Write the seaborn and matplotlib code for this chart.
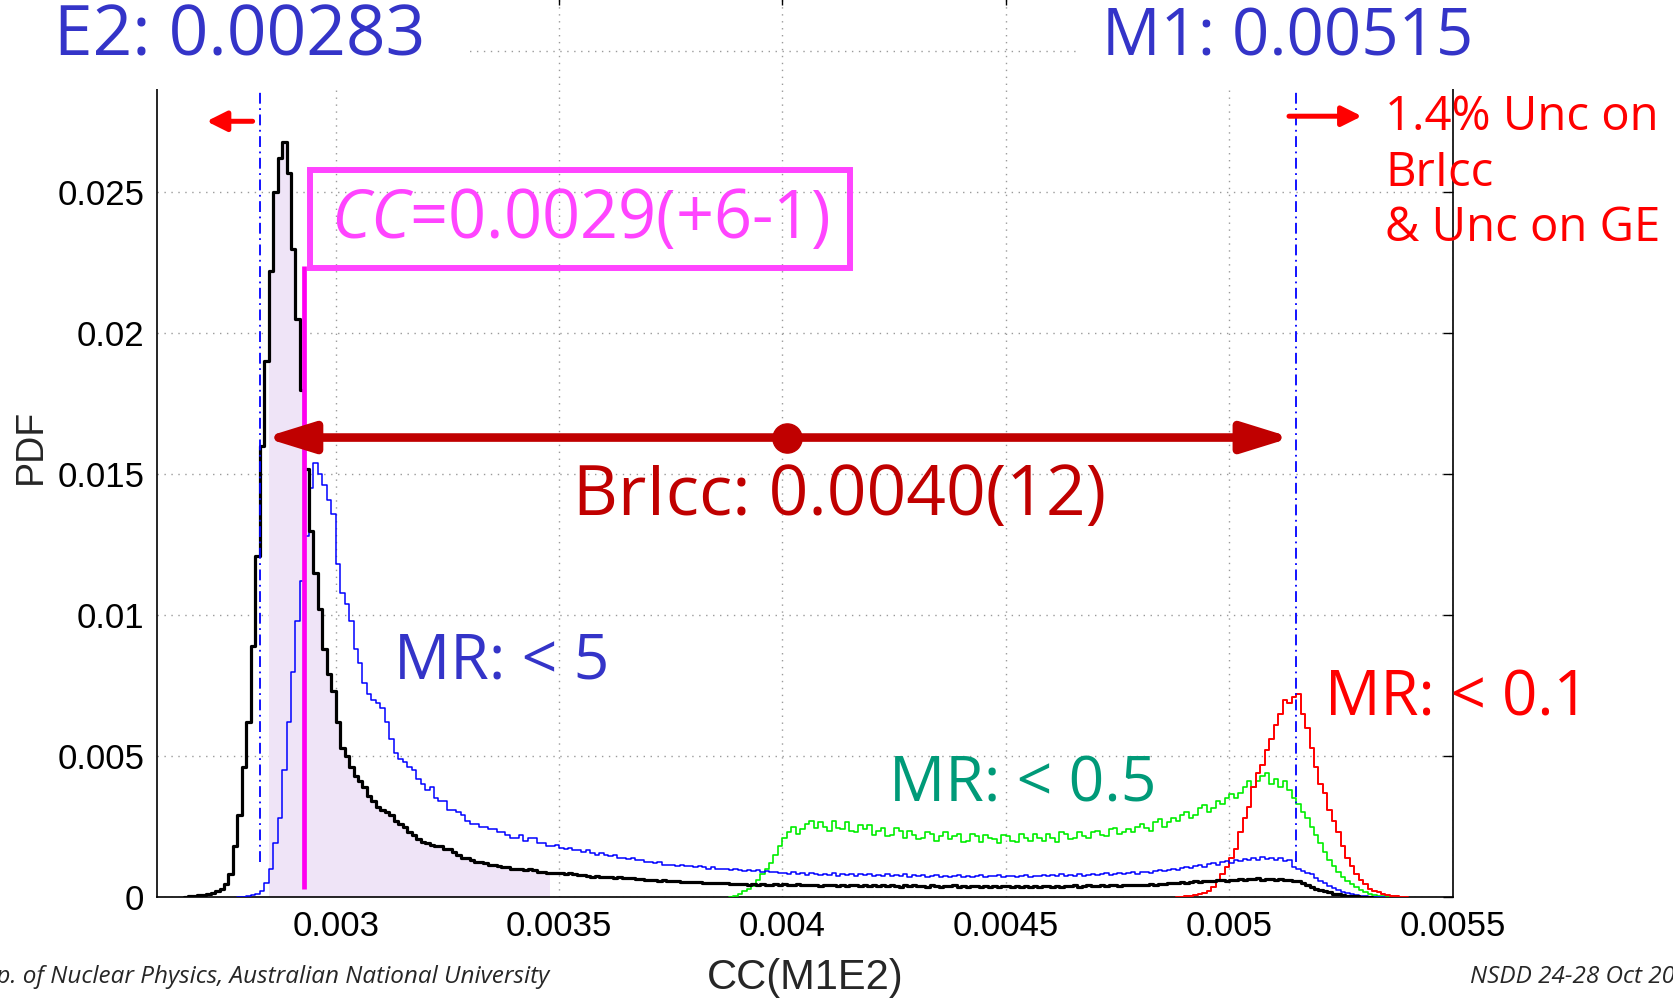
import numpy as np
import matplotlib
matplotlib.use("Agg")
import matplotlib.pyplot as plt
import seaborn as sns
from matplotlib import font_manager
from matplotlib.patches import Rectangle

# ---------------- data ----------------
BIN_WIDTH = 1e-5      # histogram bin width (CC units)
PDF_UNIT = 1e-4       # value lists below are in units of 1e-4 (PDF)

# all mixing ratios (black)
black_start = 0.00266
black_pdf = [
    0, 0.2, 0.4, 0.6, 0.8, 1.0, 1.4, 2.0, 3.0, 4.5,
    8, 18, 29, 46, 62, 89, 121, 160, 190, 222,
    250, 262, 268, 257, 230, 205, 180, 152, 130, 115,
    102, 88, 79, 73, 62, 53, 50, 46, 43, 41,
    39, 36, 34, 32, 31, 30, 29, 27, 26, 25,
    23, 22, 20.5, 19.5, 19, 18.5, 18, 18, 17, 17,
    16, 15, 14, 14, 13, 12.5, 12.5, 12, 11.5, 11.5,
    11, 10.5, 10.5, 10, 10, 10, 9.5, 9.8, 9.5, 9,
    9, 8.6, 8.6, 8.4, 8.4, 8.2, 8.4, 8, 7.8, 7.8,
    7.6, 7.2, 7.4, 7.2, 7, 7.2, 6.8, 7, 6.8, 6.6,
    6.6, 6.4, 6.4, 6.2, 6.0, 6.2, 5.8, 6.0, 5.8, 5.6,
    5.6, 5.4, 5.4, 5.2, 5.4, 5.2, 5.0, 5.0, 4.8, 5.0,
    4.8, 4.8, 4.6, 4.6, 4.6, 4.5, 4.4, 4.6, 4.4, 4.5,
    4.4,
    4.4, 4.5, 4.3, 4.6, 4.4, 4.2, 4.5, 4.3, 4.1, 4.4,
    4.2, 4.0, 4.3, 4.1, 4.4, 4.0, 4.2, 3.9, 4.3, 4.1,
    3.8, 4.2, 4.0, 4.3, 3.9, 4.1, 3.8, 4.2, 4.0, 3.7,
    4.1, 3.9, 4.2, 3.8, 4.0, 3.7, 4.1, 3.9, 3.6, 4.0,
    3.8, 4.1, 3.7, 3.9, 3.6, 4.0, 3.8, 3.5, 3.9, 3.7,
    4.0, 3.6, 3.8, 3.9, 3.5, 3.8, 3.6, 4.0, 3.7, 3.9,
    3.6, 3.8, 4.0, 3.7, 3.9, 3.6, 4.0, 3.8, 4.1, 3.7,
    3.9, 4.1, 3.8, 4.0, 4.2, 3.9, 4.1, 4.3, 4.0, 4.2,
    4.4, 4.1, 4.3, 4.2, 4.3, 4.6, 4.4, 4.7, 4.5, 4.8,
    5.0, 4.8, 5.2, 5.0, 5.3, 5.5, 5.3, 5.6, 5.8, 5.5,
    5.9, 6.1, 5.8, 6.2, 6.0, 6.4, 6.1, 6.5, 6.3, 6.6,
    6.2, 6.5, 6.3, 6.1, 6.4, 6.0, 6.2, 5.8, 5.6, 5.0,
    4.2, 3.6, 3.0, 2.5, 2.0, 1.6, 1.2, 0.9, 0.7, 0.5,
    0.3, 0.2, 0.1, 0.05, 0,
]

# MR < 5 (blue)
blue_start = 0.00278
blue_pdf = [
    0, 0.1, 0.3, 0.6, 1.2, 2.0, 5.0, 10, 19, 28,
    45, 62, 80, 98, 112, 128, 145, 154, 150, 146,
    141, 136, 118, 108, 104, 98, 88, 83, 76, 72,
    70, 69, 67, 62, 56, 51, 49, 48, 46, 45,
    42, 40, 38, 39, 35, 34, 34, 31, 31, 30,
    29, 27, 26, 26, 25, 25, 24, 24, 23, 23,
    22, 21, 21, 22, 20, 21, 21, 19, 19, 18,
    18, 18.5, 17.5, 17, 17.5, 16.5, 16.5, 16, 16.5, 15.5,
    15, 15.5, 15, 14.5, 15, 14, 14, 13.5, 14, 13,
    13, 12.5, 12.5, 12, 12.5, 11.5, 11.5, 11.5, 11, 11.5,
    11, 11, 10.5, 11, 10.5, 10, 10.5, 10, 10, 10,
    9.6, 10, 9.6, 9.4, 9.6, 9.3, 9.5, 9.0, 9.2, 8.8,
    9.0, 8.6,
    8.6, 8.2, 8.8, 8.0, 8.4, 7.8, 8.6, 8.1, 7.7, 8.3,
    7.9, 8.4, 7.6, 8.1, 7.8, 8.3, 7.5, 8.0, 7.7, 8.2,
    7.4, 7.9, 7.6, 8.1, 7.3, 7.8, 7.5, 8.0, 7.2, 7.7,
    7.4, 7.9, 7.1, 7.6, 7.8, 7.2, 7.6, 7.0, 7.5, 7.8,
    7.2, 7.6, 7.0, 7.4, 7.7, 7.1, 7.5, 7.3, 7.8, 7.0,
    7.4, 7.6, 7.1, 7.5, 7.8, 7.2, 7.6, 7.4, 7.9, 7.3,
    7.7, 7.5, 8.0, 7.4, 7.8, 7.6, 8.1, 7.5, 7.9, 8.2,
    7.7, 8.1, 8.4, 7.9, 8.3, 8.6, 8.1, 8.5, 8.8, 8.3,
    8.7, 9.0, 8.6, 9.2, 9.5, 9.1, 9.7, 10.0, 9.6, 10.3,
    10.6, 10.2, 11.0, 11.3, 10.8, 11.6, 12.0, 11.5, 12.3, 12.6,
    12.1, 13.0, 12.6, 13.4, 13.0, 13.8, 13.3, 14.2, 13.6, 14.0,
    13.2, 13.7, 12.8, 13.3, 10.5, 10.0, 9.4, 8.6, 8.2, 6.8,
    5.8, 4.8, 3.9, 3.1, 2.4, 1.8, 1.3, 0.9, 0.6, 0.4,
    0.25, 0.15, 0.08, 0.04, 0,
]

# MR < 0.5 (green)
green_start = 0.00388
green_pdf = [
    0, 0.5, 1, 2, 3, 4, 6, 8, 10, 12,
    15, 18, 21, 23, 25, 22.5, 24, 26, 27, 24.5,
    26.5, 25, 23.5, 27, 24.5, 24, 26.5, 23.5, 23, 25.5,
    24, 25.5, 22, 23.5, 24.5, 21.5, 22, 24.5, 23.5, 21,
    23.5, 22, 20.5, 21, 23, 22.5, 20, 21.5, 23, 20.5,
    21.5, 22.5, 19.5, 20, 22.5, 21.5, 19.5, 22, 21, 20.5,
    19, 22, 21.5, 20, 19.5, 22.5, 21, 20, 22.5, 21,
    20, 22.5, 21, 19.5, 23, 22.5, 20.5, 21, 23, 21.5,
    21, 23, 23.5, 22, 21.5, 24, 24.5, 22.5, 23, 24,
    23, 25, 26, 24.5, 23.5, 26.5, 27.5, 25, 26.5, 28,
    27, 29, 30, 28, 29, 31.5, 32.5, 30, 31.5, 34,
    33, 35, 36.5, 35, 37, 39, 41, 39, 41, 43,
    44, 40, 42, 39, 41, 38, 35, 33, 30, 28,
    25, 22, 19, 16, 13, 11, 9, 7, 5.5, 4.5,
    3.5, 2.5, 1.8, 1.2, 0.8, 0.5, 0.3, 0.1, 0,
]

# MR < 0.1 (red)
red_start = 0.00488
red_pdf = [
    0, 0.1, 0.2, 0.4, 0.7, 1.0, 1.5, 2.2, 3.5, 5.5,
    8, 10.5, 14, 17, 23, 28, 32, 39, 44, 47,
    52, 56, 61, 65, 70, 69, 71, 72, 65, 60,
    53, 46, 40, 37, 31, 27, 23, 18, 14, 11,
    8, 6, 4.5, 3, 2.2, 1.6, 1.0, 0.7, 0.4, 0.2,
    0.1, 0,
]

shade_lo, shade_hi = 0.00285, 0.00348     # shaded CC interval
cc_adopted = 0.00293                       # adopted CC (magenta line)
cc_line_top = 0.0224
e2_cc = 0.00283
m1_cc = 0.00515
bricc_cc = 0.00401
bricc_lo, bricc_hi = 0.00284, 0.00514
bricc_y = 0.0163

x_ticks = [0.003, 0.0035, 0.004, 0.0045, 0.005, 0.0055]
x_tick_labels = ["0.003", "0.0035", "0.004", "0.0045", "0.005", "0.0055"]
y_ticks = [0, 0.005, 0.01, 0.015, 0.02, 0.025, 0.03]
y_tick_labels = ["0", "0.005", "0.01", "0.015", "0.02", "0.025", ""]

# ---------------- style ----------------
sns.set_style("white")
names = {f.name for f in font_manager.fontManager.ttflist}


def pick(*cands):
    for c in cands:
        if c in names:
            return c
    return "DejaVu Sans"


SANS = pick("Liberation Sans", "Arial", "DejaVu Sans")
CASUAL = pick("Open Sans", "Lato", "DejaVu Sans")
NARROW = pick("Liberation Sans Narrow", "Open Sans", "DejaVu Sans")
plt.rcParams["font.family"] = [SANS, "DejaVu Sans"]
plt.rcParams["mathtext.fontset"] = "custom"
plt.rcParams["mathtext.it"] = CASUAL + ":italic"
plt.rcParams["mathtext.rm"] = CASUAL

BLUE_TXT = "#3434c8"
TEAL = "#009a78"
RED = "#ff0000"
DARKRED = "#c00000"
MAGENTA_BOX = "#ff44ff"
MAGENTA_LINE = "#ff00f0"
LAVENDER = "#efe4f7"

W, H = 1673, 998
fig = plt.figure(figsize=(W / 100, H / 100), dpi=100)
ax = fig.add_axes([157 / W, 101 / H, 1295.5 / W, 902 / H])


def edges_centers(start, n):
    edges = start + BIN_WIDTH * np.arange(n + 1)
    return edges, edges[:-1] + BIN_WIDTH / 2


def draw_hist(start, vals, color, lw, z):
    vals = np.asarray(vals, dtype=float) * PDF_UNIT
    edges, centers = edges_centers(start, len(vals))
    sns.histplot(x=centers, weights=vals, bins=list(edges), element="step",
                 fill=False, color=color, linewidth=lw, ax=ax, zorder=z)


# shaded region under the total distribution
bv = np.asarray(black_pdf, dtype=float) * PDF_UNIT
bedges, bcent = edges_centers(black_start, len(bv))
idx = np.where((bcent > shade_lo) & (bcent < shade_hi))[0]
sns.histplot(x=bcent[idx], weights=bv[idx], bins=list(bedges[idx[0]:idx[-1] + 2]),
             element="step", fill=True, color=LAVENDER, alpha=1, linewidth=0,
             ax=ax, zorder=1)

draw_hist(green_start, green_pdf, "#00ee00", 1.2, 3)
draw_hist(red_start, red_pdf, "#ff0000", 1.4, 4)
draw_hist(blue_start, blue_pdf, "#0000ff", 1.1, 5)
draw_hist(black_start, black_pdf, "black", 2.3, 6)

# E2 / M1 reference lines
for xv in (e2_cc, m1_cc):
    ax.plot([xv, xv], [0.00125, 0.0287], color="#0000ff", lw=1.3,
            ls=(0, (6, 2.5, 1, 2.5)), zorder=7)

# adopted value line and box
ax.plot([cc_adopted, cc_adopted], [0.0003, cc_line_top], color=MAGENTA_LINE,
        lw=3.4, solid_capstyle="butt", zorder=8)
ax.add_patch(Rectangle((0.002942, 0.0223), 0.00121, 0.00348, fill=False,
                       ec=MAGENTA_BOX, lw=4.3, zorder=8))
ax.text(0.003548, 0.02400, r"$\mathit{CC}$=0.0029(+6-1)", color=MAGENTA_BOX,
        fontsize=48, family=CASUAL, ha="center", va="center", zorder=9)

# BrIcc double arrow
ax.annotate("", xy=(bricc_lo, bricc_y), xytext=(bricc_hi, bricc_y),
            arrowprops=dict(arrowstyle="<|-|>,head_length=2.9,head_width=0.9",
                            mutation_scale=10, lw=6.2, color=DARKRED,
                            shrinkA=0, shrinkB=0), zorder=9)
ax.plot([bricc_cc], [bricc_y], "o", ms=21, color=DARKRED, zorder=10)
ax.text(0.004127, 0.01420, "BrIcc: 0.0040(12)", color=DARKRED, fontsize=50,
        family=CASUAL, ha="center", va="center", zorder=9)

# small red arrows
ax.annotate("", xy=(0.002711, 0.02752), xytext=(0.002814, 0.02752),
            arrowprops=dict(arrowstyle="-|>,head_length=1.2,head_width=0.6",
                            mutation_scale=10, lw=3.6, color=RED,
                            shrinkA=0, shrinkB=0), zorder=9)
ax.annotate("", xy=(0.005297, 0.02770), xytext=(0.005134, 0.02770),
            arrowprops=dict(arrowstyle="-|>,head_length=1.2,head_width=0.6",
                            mutation_scale=10, lw=3.6, color=RED,
                            shrinkA=0, shrinkB=0), zorder=9,
            annotation_clip=False)
ax.text(0.005349, 0.02850, "1.4% Unc on\nBrIcc\n& Unc on GE", color=RED,
        fontsize=34, family=CASUAL, ha="left", va="top", linespacing=1.22,
        zorder=9, clip_on=False)

# MR labels
ax.text(0.003371, 0.00833, "MR: < 5", color=BLUE_TXT, fontsize=45,
        family=CASUAL, ha="center", va="center", zorder=9)
ax.text(0.004539, 0.00395, "MR: < 0.5", color=TEAL, fontsize=45,
        family=CASUAL, ha="center", va="center", zorder=9)
ax.text(0.00551, 0.00702, "MR: < 0.1", color=RED, fontsize=44.5,
        family=CASUAL, ha="center", va="center", zorder=9, clip_on=False)

# axes styling
ax.set_xlim(0.0026, 0.0055)
ax.set_ylim(0, 0.032)
ax.set_xticks(x_ticks)
ax.set_xticklabels(x_tick_labels)
ax.set_yticks(y_ticks)
ax.set_yticklabels(y_tick_labels)
ax.tick_params(direction="in", length=7.5, width=1.0, labelsize=25, pad=9,
               top=True, right=True, colors="black")
ax.grid(True, color="#9a9a9a", lw=1.0, ls=(0, (1, 4)))
ax.set_axisbelow(True)
for s in ax.spines.values():
    s.set_color("black")
    s.set_linewidth(1.2)
ax.set_xlabel("CC(M1E2)", fontsize=30)
ax.set_ylabel("PDF", fontsize=27)
ax.xaxis.set_label_coords(0.5, -0.068)
ax.yaxis.set_label_coords(-0.0834, 0.5)

# white cover boxes at top, with headings
fig.add_artist(Rectangle((0, 1 - 88.5 / H), 466 / W, 0.2, transform=fig.transFigure,
                         fc="white", ec="none", zorder=20))
fig.add_artist(Rectangle((1077 / W, 1 - 88.5 / H), 0.5, 0.2, transform=fig.transFigure,
                         fc="white", ec="none", zorder=20))
fig.text(240 / W, 1 - 38 / H, "E2: 0.00283", color=BLUE_TXT, fontsize=50,
         family=CASUAL, ha="center", va="center", zorder=21)
fig.text(1288 / W, 1 - 38 / H, "M1: 0.00515", color=BLUE_TXT, fontsize=47,
         family=CASUAL, ha="center", va="center", zorder=21)

# footer
fig.text(549 / W, 0.021, "Dep. of Nuclear Physics, Australian National University",
         fontsize=17.5, family=NARROW, style="italic", ha="right", va="center", zorder=21)
fig.text(1470 / W, 0.021, "NSDD 24-28 Oct 2016", fontsize=17.5, family=NARROW,
         style="italic", ha="left", va="center", zorder=21)

fig.savefig("out.png", dpi=100)
